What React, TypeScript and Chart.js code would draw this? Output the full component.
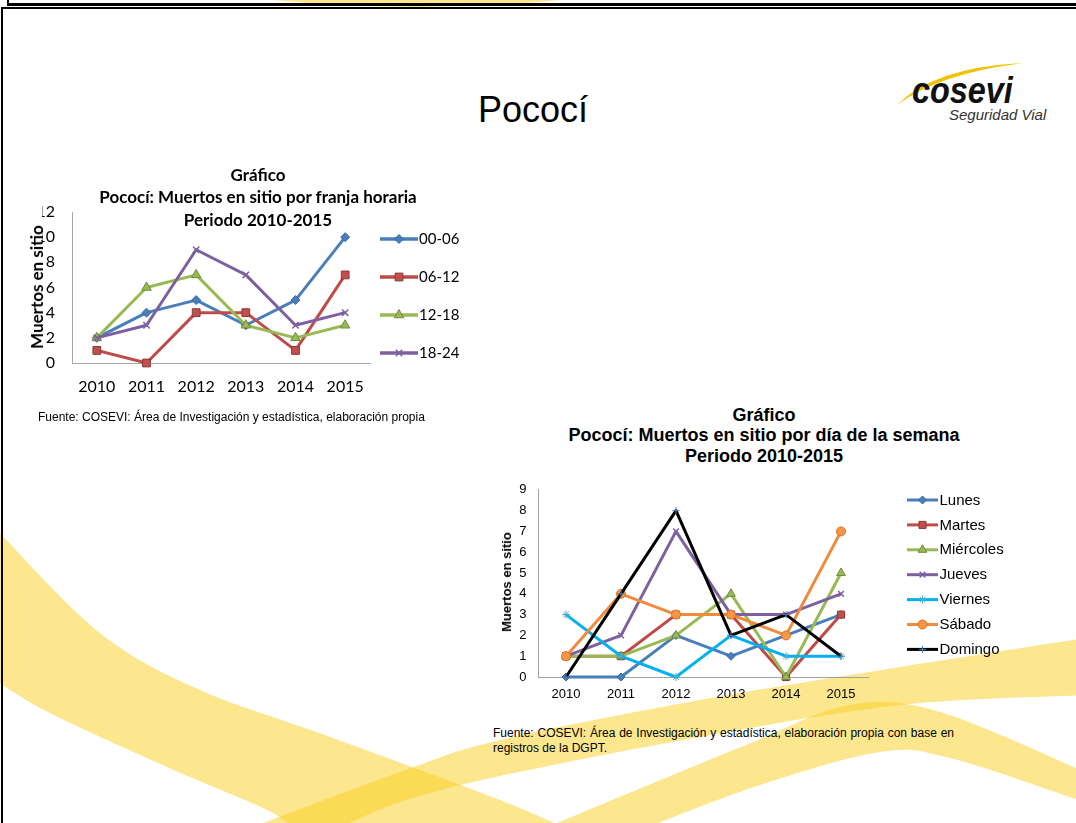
import React, { useEffect, useRef } from 'react';
import { Chart, registerables } from 'chart.js';

Chart.register(...registerables);

// ---------- DATA ----------
const years = ['2010', '2011', '2012', '2013', '2014', '2015'];

const franjaNames = ['00-06', '06-12', '12-18', '18-24'];
const franja0006 = [2, 4, 5, 3, 5, 10];
const franja0612 = [1, 0, 4, 4, 1, 7];
const franja1218 = [2, 6, 7, 3, 2, 3];
const franja1824 = [2, 3, 9, 7, 3, 4];
const franjaYMax = 12;
const franjaYStep = 2;

const diaNames = ['Lunes', 'Martes', 'Miércoles', 'Jueves', 'Viernes', 'Sábado', 'Domingo'];
const lunes = [0, 0, 2, 1, 2, 3];
const martes = [1, 1, 3, 3, 0, 3];
const miercoles = [1, 1, 2, 4, 0, 5];
const jueves = [1, 2, 7, 3, 3, 4];
const viernes = [3, 1, 0, 2, 1, 1];
const sabado = [1, 4, 3, 3, 2, 7];
const domingo = [0, 4, 8, 2, 3, 1];
const diaYMax = 9;
const diaYStep = 1;

// ---------- STYLES ----------
const franjaStyles = [
  { color: '#4A7EBB', point: 'rectRot', bg: '#4A7EBB', pb: '#3B6AA0', r: 4.5, pw: 1 },
  { color: '#BE4B48', point: 'rect', bg: '#C0504D', pb: '#8C3836', r: 5.5, pw: 1 },
  { color: '#98B954', point: 'triangle', bg: '#98B954', pb: '#71893F', r: 5.5, pw: 1 },
  { color: '#7D60A0', point: 'crossRot', bg: '#7D60A0', pb: '#7D60A0', r: 4.5, pw: 1.5 },
];
const diaStyles = [
  { color: '#4A7EBB', point: 'rectRot', bg: '#4A7EBB', pb: '#3B6AA0', r: 4, pw: 1 },
  { color: '#BE4B48', point: 'rect', bg: '#C0504D', pb: '#8C3836', r: 5, pw: 1 },
  { color: '#98B954', point: 'triangle', bg: '#98B954', pb: '#71893F', r: 5, pw: 1 },
  { color: '#7D60A0', point: 'crossRot', bg: '#7D60A0', pb: '#7D60A0', r: 4, pw: 1.5 },
  { color: '#00B0F0', point: 'star', bg: '#4BACC6', pb: '#4BACC6', r: 4, pw: 1 },
  { color: '#F08A3C', point: 'circle', bg: '#F79646', pb: '#D9731F', r: 4.5, pw: 1 },
  { color: '#000000', point: 'cross', bg: '#4A7EBB', pb: '#4A7EBB', r: 3.5, pw: 1 },
];

function manualLegend(o: { x0: number; x1: number; y0: number; dy: number; font: string; gap: number; lw: number }) {
  return {
    id: 'manualLegend',
    afterDraw(chart: any) {
      const ctx = chart.ctx;
      ctx.save();
      chart.data.datasets.forEach((ds: any, i: number) => {
        const y = o.y0 + i * o.dy;
        ctx.beginPath();
        ctx.strokeStyle = ds.borderColor;
        ctx.lineWidth = o.lw;
        ctx.lineCap = 'butt';
        ctx.moveTo(o.x0, y);
        ctx.lineTo(o.x1, y);
        ctx.stroke();
        const p = chart.getDatasetMeta(i).data[0];
        if (p) {
          const f = Object.create(p);
          f.x = (o.x0 + o.x1) / 2;
          f.y = y;
          f.draw(ctx);
        }
        ctx.fillStyle = '#000';
        ctx.font = o.font;
        ctx.textBaseline = 'middle';
        ctx.textAlign = 'left';
        ctx.fillText(ds.label, o.x1 + o.gap, y + 0.5);
      });
      ctx.restore();
    },
  };
}

type ChartSpec = {
  left: number; top: number; width: number; height: number;
  series: number[][]; names: string[]; styles: any[];
  yMax: number; yStep: number;
  pad: { left: number; right: number; top: number; bottom: number };
  yWidth: number; xHeight: number; yPad: number; xPad: number;
  font: { family: string; size: number };
  axisColor: string; lineWidth: number;
  legend: { x0: number; x1: number; y0: number; dy: number; font: string; gap: number; lw: number };
};

function LineChart({ spec }: { spec: ChartSpec }) {
  const ref = useRef<HTMLCanvasElement | null>(null);
  useEffect(() => {
    if (!ref.current) return;
    const datasets = spec.series.map((vals, i) => {
      const s = spec.styles[i];
      return {
        label: spec.names[i],
        data: vals,
        borderColor: s.color,
        backgroundColor: s.color,
        borderWidth: spec.lineWidth,
        pointStyle: s.point,
        pointRadius: s.r,
        pointBackgroundColor: s.bg,
        pointBorderColor: s.pb,
        pointBorderWidth: s.pw,
        tension: 0,
        fill: false,
        clip: false,
        order: -i,
        borderJoinStyle: 'round',
      };
    });
    const chart = new Chart(ref.current, {
      type: 'line',
      data: { labels: years, datasets },
      options: {
        responsive: false,
        animation: false,
        events: [],
        layout: { padding: spec.pad },
        plugins: { legend: { display: false }, title: { display: false }, tooltip: { enabled: false } },
        scales: {
          x: {
            type: 'category',
            offset: true,
            grid: { display: false, drawTicks: false },
            border: { display: true, color: spec.axisColor, width: 1 },
            ticks: { font: spec.font, color: '#000', padding: spec.xPad, maxRotation: 0, autoSkip: false },
            afterFit: (s: any) => { s.height = spec.xHeight; },
          },
          y: {
            min: 0,
            max: spec.yMax,
            grid: { display: false, drawTicks: false },
            border: { display: true, color: spec.axisColor, width: 1 },
            ticks: { stepSize: spec.yStep, font: spec.font, color: '#000', padding: spec.yPad },
            afterFit: (s: any) => { s.width = spec.yWidth; },
          },
        },
      } as any,
      plugins: [manualLegend(spec.legend)],
    });
    return () => chart.destroy();
  }, []);
  return (
    <canvas
      ref={ref}
      width={spec.width}
      height={spec.height}
      style={{ position: 'absolute', left: spec.left, top: spec.top, width: spec.width, height: spec.height }}
    />
  );
}

// ---------- BACKGROUND SHAPES ----------
function smoothSeg(pts: number[][], move: boolean): string {
  let d = (move ? 'M ' : 'L ') + pts[0][0] + ' ' + pts[0][1];
  for (let i = 0; i < pts.length - 1; i++) {
    const p0 = pts[i - 1] || pts[i];
    const p1 = pts[i];
    const p2 = pts[i + 1];
    const p3 = pts[i + 2] || p2;
    const c1 = [p1[0] + (p2[0] - p0[0]) / 6, p1[1] + (p2[1] - p0[1]) / 6];
    const c2 = [p2[0] - (p3[0] - p1[0]) / 6, p2[1] - (p3[1] - p1[1]) / 6];
    d += ` C ${c1[0]} ${c1[1]} ${c2[0]} ${c2[1]} ${p2[0]} ${p2[1]}`;
  }
  return d;
}
function band(top: number[][], bottom: number[][]): string {
  return smoothSeg(top, true) + ' ' + smoothSeg(bottom, false) + ' Z';
}

const swooshA = band(
  [[-5, 528], [100, 633], [200, 690], [333, 738], [500, 800], [570, 830]],
  [[295, 830], [267, 810], [167, 767], [50, 713], [-5, 680]]
);
const swooshB = band(
  [[245, 830], [400, 772], [500, 740], [700, 700], [900, 667], [1085, 638]],
  [[1085, 695], [900, 705], [700, 737], [500, 776], [400, 802], [335, 830]]
);
const swooshC = band(
  [[540, 830], [746, 745], [850, 705], [940, 712], [1085, 772]],
  [[1085, 802], [950, 758], [880, 752], [760, 785], [640, 830]]
);
const swooshTop = 'M 255 -2 Q 415 16 580 -2 Z';
const logoArc = 'M 897 105 Q 935 67 1024 63 Q 940 73 897 105 Z';

const abs = (o: React.CSSProperties): React.CSSProperties => ({ position: 'absolute', margin: 0, ...o });

export default function App() {
  const spec1: ChartSpec = {
    left: 0, top: 150, width: 460, height: 260,
    series: [franja0006, franja0612, franja1218, franja1824],
    names: franjaNames, styles: franjaStyles,
    yMax: franjaYMax, yStep: franjaYStep,
    pad: { left: 42, right: 90, top: 62, bottom: 17 },
    yWidth: 30, xHeight: 30, yPad: 17, xPad: 14,
    font: { family: 'Lato', size: 16 },
    axisColor: '#A6A6A6', lineWidth: 3,
    legend: { x0: 380, x1: 418, y0: 89, dy: 38, font: '15px Lato', gap: 1, lw: 3.5 },
  };
  const spec2: ChartSpec = {
    left: 480, top: 470, width: 596, height: 240,
    series: [lunes, martes, miercoles, jueves, viernes, sabado, domingo],
    names: diaNames, styles: diaStyles,
    yMax: diaYMax, yStep: diaYStep,
    pad: { left: 28.5, right: 207.5, top: 16, bottom: 5 },
    yWidth: 30, xHeight: 28, yPad: 12, xPad: 10,
    font: { family: 'Liberation Sans', size: 13 },
    axisColor: '#A0A0A0', lineWidth: 3,
    legend: { x0: 427, x1: 458, y0: 30, dy: 24.9, font: '15px "Liberation Sans"', gap: 1.5, lw: 3 },
  };

  const sans = '"Liberation Sans", Arial, sans-serif';
  return (
    <div style={{ position: 'fixed', left: 0, top: 0, width: 1076, height: 823, overflow: 'hidden', background: '#fff' }}>
      <svg width={1076} height={823} style={{ position: 'absolute', left: 0, top: 0 }}>
        <g fill="rgb(250,205,30)" fillOpacity={0.5}>
          <path d={swooshA} />
          <path d={swooshB} />
          <path d={swooshC} />
          <path d={swooshTop} />
        </g>
        <path d={logoArc} fill="#F2C100" />
      </svg>

      {/* frame lines */}
      <div style={abs({ left: 7, top: 0, width: 2, height: 6, background: '#000' })} />
      <div style={abs({ left: 7, top: 3, width: 1069, height: 3, background: '#000' })} />
      <div style={abs({ left: 1, top: 7, width: 1075, height: 2, background: '#000' })} />
      <div style={abs({ left: 1, top: 7, width: 2, height: 816, background: '#000' })} />

      {/* slide title */}
      <div style={abs({ left: 333, top: 90, width: 400, textAlign: 'center', fontFamily: sans, fontSize: 36, lineHeight: '40px', color: '#000' })}>
        Pococí
      </div>

      {/* logo */}
      <div style={abs({ left: 912, top: 72.5, fontFamily: sans, fontWeight: 'bold', fontStyle: 'italic', fontSize: 36, lineHeight: '36px', color: '#111', transform: 'scaleX(0.9)', transformOrigin: 'left center' })}>
        cosevi
      </div>
      <div style={abs({ left: 949, top: 106, fontFamily: sans, fontStyle: 'italic', fontSize: 15, lineHeight: '18px', color: '#333', whiteSpace: 'nowrap' })}>
        Seguridad Vial
      </div>

      <LineChart spec={spec1} />
      <LineChart spec={spec2} />

      {/* chart 1 texts */}
      <div style={abs({ left: 58, top: 163.5, width: 400, textAlign: 'center', fontFamily: 'Lato', fontWeight: 'bold', fontSize: 17, lineHeight: '22.5px', color: '#000' })}>
        <div>Gráfico</div>
        <div>Pococí: Muertos en sitio por franja horaria</div>
        <div>Periodo 2010-2015</div>
      </div>
      <div style={abs({ left: 37, top: 287, transform: 'translate(-50%, -50%) rotate(-90deg)', fontFamily: 'Lato', fontWeight: 'bold', fontSize: 17, lineHeight: '20px', whiteSpace: 'nowrap', color: '#000' })}>
        Muertos en sitio
      </div>
      <div style={abs({ left: 38, top: 410, fontFamily: sans, fontSize: 12, lineHeight: '15px', whiteSpace: 'nowrap', color: '#000' })}>
        Fuente: COSEVI: Área de Investigación y estadística, elaboración propia
      </div>

      {/* chart 2 texts */}
      <div style={abs({ left: 564, top: 404.5, width: 400, textAlign: 'center', fontFamily: sans, fontWeight: 'bold', fontSize: 18, lineHeight: '20.5px', color: '#000' })}>
        <div>Gráfico</div>
        <div>Pococí: Muertos en sitio por día de la semana</div>
        <div>Periodo 2010-2015</div>
      </div>
      <div style={abs({ left: 507, top: 582, transform: 'translate(-50%, -50%) rotate(-90deg)', fontFamily: sans, fontWeight: 'bold', fontSize: 13, lineHeight: '16px', whiteSpace: 'nowrap', color: '#000' })}>
        Muertos en sitio
      </div>
      <div style={abs({ left: 493, top: 725.5, width: 461, textAlign: 'justify', fontFamily: sans, fontSize: 12, lineHeight: '15px', color: '#000' })}>
        Fuente: COSEVI: Área de Investigación y estadística, elaboración propia con base en registros de la DGPT.
      </div>
    </div>
  );
}
